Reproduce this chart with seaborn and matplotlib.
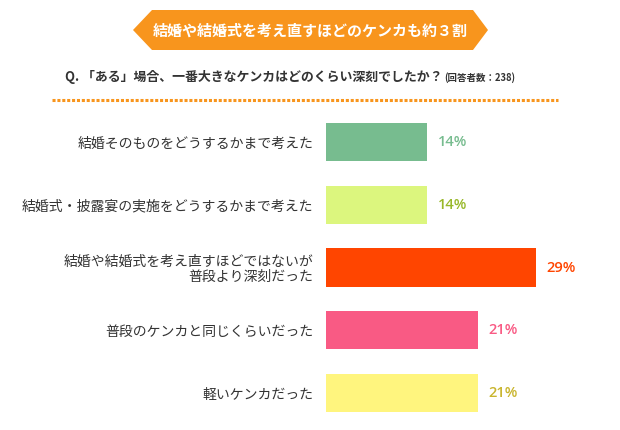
import matplotlib
matplotlib.use("Agg")
import matplotlib.pyplot as plt
import seaborn as sns
import pandas as pd
from matplotlib.patches import Polygon

categories = [
    "結婚そのものをどうするかまで考えた",
    "結婚式・披露宴の実施をどうするかまで考えた",
    "結婚や結婚式を考え直すほどではないが\n普段より深刻だった",
    "普段のケンカと同じくらいだった",
    "軽いケンカだった",
]
values = [14, 14, 29, 21, 21]
value_labels = ["14%", "14%", "29%", "21%", "21%"]
bar_colors = ["#77BC8F", "#DCF67E", "#FF4500", "#F95A84", "#FFF57E"]
label_colors = ["#77BC8F", "#98B82A", "#FF4500", "#F95A84", "#C9B52E"]
title = "結婚や結婚式を考え直すほどのケンカも約３割"
question = "Q. 「ある」場合、一番大きなケンカはどのくらい深刻でしたか？"
note = "(回答者数：238)"

sns.set_theme(style="white")
plt.rcParams["font.family"] = ["Noto Sans CJK JP", "DejaVu Sans"]

df = pd.DataFrame({"cat": categories, "val": values})

W, H = 620, 430
fig = plt.figure(figsize=(W / 100, H / 100), dpi=100)

ax_left = 326 / W
ax_w = 289 / W
ax_top_px, ax_bot_px = 110.6, 424.4
ax = fig.add_axes([ax_left, (H - ax_bot_px) / H, ax_w, (ax_bot_px - ax_top_px) / H])
sns.barplot(data=df, x="val", y="cat", hue="cat", palette=bar_colors,
            order=categories, hue_order=categories, legend=False,
            width=0.606, orient="h", ax=ax, edgecolor="none", saturation=1)
ax.set_xlim(0, 40)
ax.set_ylim(4.5, -0.5)
ax.set_xlabel("")
ax.set_ylabel("")
ax.set_xticks([])
ax.tick_params(axis="y", length=0, pad=9, labelsize=10, labelcolor="#333333")
for lab in ax.get_yticklabels():
    lab.set_multialignment("right")
    lab.set_linespacing(1.1)
for s in ax.spines.values():
    s.set_visible(False)
for i, (v, t, c) in enumerate(zip(values, value_labels, label_colors)):
    ax.annotate(t, (v, i), xytext=(7.5, 0), textcoords="offset points",
                va="center", ha="left", fontsize=10.5, fontweight="semibold", color=c,
                family=["Open Sans", "DejaVu Sans"])

ov = fig.add_axes([0, 0, 1, 1], zorder=-1)
ov.set_xlim(0, W)
ov.set_ylim(H, 0)
ov.axis("off")
ov.add_patch(Polygon([(133, 30), (152, 10), (473, 10), (488, 30), (473, 50), (152, 50)],
                     closed=True, facecolor="#F8951D", edgecolor="none"))
ov.text(310, 30.5, title, ha="center", va="center", color="white",
        fontsize=10.8, fontweight="bold")
qt = ov.text(65, 77, question, ha="left", va="center", color="#333333",
             fontsize=9.3, fontweight="bold")
fig.canvas.draw()
bb = qt.get_window_extent()
ov.text(bb.x1 + 2, 78, note, ha="left", va="center", color="#333333",
        fontsize=6.8, fontweight="bold")
ov.plot([52, 558], [100, 100], color="#F8951D", lw=2.2, linestyle=(0, (1, 0.6)))

fig.savefig("out.png", dpi=100, facecolor="white")
